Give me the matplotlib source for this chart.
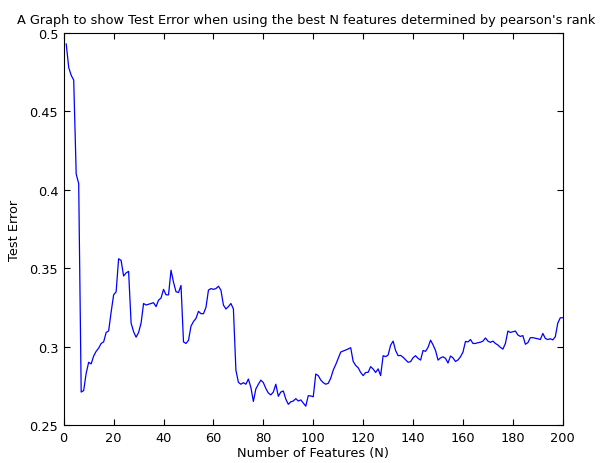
import matplotlib
matplotlib.use("Agg")
import matplotlib.pyplot as plt
from matplotlib.ticker import FixedLocator

plt.rcParams['font.family'] = ['DejaVu Sans']

n_features = list(range(1, 201))
test_error = [
    0.493, 0.478, 0.473, 0.470, 0.410, 0.404, 0.271, 0.272, 0.283, 0.290,
    0.289, 0.294, 0.297, 0.299, 0.302, 0.303, 0.309, 0.310, 0.322, 0.333,
    0.335, 0.356, 0.355, 0.345, 0.347, 0.348, 0.315, 0.3095, 0.306, 0.309,
    0.315, 0.3275, 0.3265, 0.327, 0.3275, 0.328, 0.3255, 0.3296, 0.331, 0.3365,
    0.333, 0.333, 0.3487, 0.341, 0.335, 0.3345, 0.339, 0.303, 0.302, 0.304,
    0.313, 0.316, 0.318, 0.3225, 0.321, 0.321, 0.325, 0.336, 0.337, 0.3365,
    0.337, 0.3385, 0.336, 0.3265, 0.324, 0.3255, 0.3275, 0.324, 0.285, 0.2772,
    0.276, 0.277, 0.276, 0.2793, 0.274, 0.265, 0.273, 0.276, 0.2786, 0.277,
    0.2733, 0.2704, 0.2692, 0.271, 0.276, 0.2683, 0.271, 0.2717, 0.2665, 0.2632,
    0.2648, 0.2653, 0.2668, 0.2653, 0.266, 0.264, 0.262, 0.2687, 0.2685, 0.268,
    0.2825, 0.2815, 0.2787, 0.277, 0.276, 0.2766, 0.2798, 0.285, 0.2885, 0.2925,
    0.2965, 0.2972, 0.2978, 0.2985, 0.2993, 0.2905, 0.288, 0.2865, 0.2835, 0.2815,
    0.2835, 0.2836, 0.2872, 0.2857, 0.2835, 0.2858, 0.2815, 0.2942, 0.2936, 0.2946,
    0.3009, 0.3035, 0.2975, 0.2942, 0.2944, 0.2932, 0.2916, 0.290, 0.2904, 0.2929,
    0.2942, 0.2925, 0.2914, 0.2975, 0.297, 0.2995, 0.3041, 0.3011, 0.2975, 0.2914,
    0.2928, 0.2935, 0.2925, 0.2895, 0.294, 0.2928, 0.2905, 0.2915, 0.2935, 0.2965,
    0.3033, 0.303, 0.3045, 0.302, 0.302, 0.3025, 0.3028, 0.3035, 0.3055, 0.3035,
    0.3027, 0.3035, 0.302, 0.301, 0.2995, 0.2984, 0.302, 0.3099, 0.309, 0.3095,
    0.3099, 0.3074, 0.3065, 0.307, 0.3015, 0.3025, 0.3057, 0.3057, 0.3053, 0.305,
    0.3045, 0.3084, 0.3052, 0.3045, 0.305, 0.3043, 0.3063, 0.315, 0.3184, 0.3184,
]

x_ticks = [0, 20, 40, 60, 80, 100, 120, 140, 160, 180, 200]
y_ticks = [0.25, 0.3, 0.35, 0.4, 0.45, 0.5]
y_tick_labels = ["0.25", "0.3", "0.35", "0.4", "0.45", "0.5"]

title = "A Graph to show Test Error when using the best N features determined by pearson's rank"
xlabel = "Number of Features (N)"
ylabel = "Test Error"

FS = 9.3
fig = plt.figure(figsize=(6.0, 4.64), dpi=100, facecolor='white')
ax = fig.add_axes([0.1062, 0.0819, 0.8318, 0.8448])
ax.plot(n_features, test_error, color=(0, 0, 1), lw=0.9)

ax.set_xlim(0, 200)
ax.set_ylim(0.25, 0.5)
ax.xaxis.set_major_locator(FixedLocator(x_ticks))
ax.yaxis.set_major_locator(FixedLocator(y_ticks))
ax.set_xticklabels([str(t) for t in x_ticks])
ax.set_yticklabels(y_tick_labels)
ax.tick_params(direction='in', length=4, width=0.8, top=True, right=True,
               labelsize=FS, pad=4)
for s in ax.spines.values():
    s.set_linewidth(0.8)

ax.set_title(title, fontsize=FS, pad=7, x=0.485)
ax.set_xlabel(xlabel, fontsize=FS, labelpad=2)
ax.set_ylabel(ylabel, fontsize=FS, labelpad=6)

fig.savefig("out.png", dpi=100, facecolor='white')
